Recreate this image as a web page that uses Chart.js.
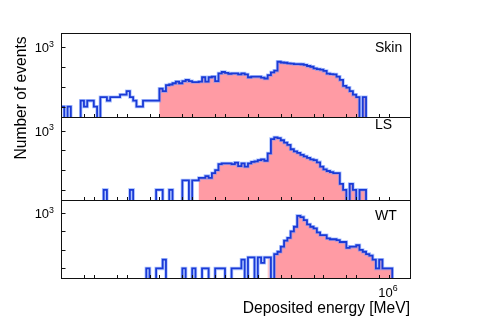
<!DOCTYPE html>
<html>
<head>
<meta charset="utf-8">
<script src="https://cdn.jsdelivr.net/npm/chart.js@4.4.1/dist/chart.umd.min.js"></script>
<style>
html,body{margin:0;padding:0;background:#ffffff;}
#wrap{position:relative;width:483px;height:327px;overflow:hidden;background:#ffffff;}
#wrap canvas{position:absolute;left:0;top:0;}
</style>
</head>
<body>
<div id="wrap">
<canvas id="p0" width="483" height="327"></canvas>
<canvas id="p1" width="483" height="327"></canvas>
<canvas id="p2" width="483" height="327"></canvas>
</div>
<script>
// ---------------- data ----------------
const BIN_LOG_START = -4;   // log10 of lower edge of first bin [MeV]
const BIN_LOG_STEP = 0.1;   // bin width in decades

const PANEL_NAMES = ['Skin', 'LS', 'WT'];

const SKIN_COUNTS = [
  1,0,1,0,0,0,2,1,2,2, 1,0,3,3,2,3,3,3,4,4, 6,3,2,1,1,2,2,2,2,2,
  8,6,12,13,15,18,15,19,22,19, 17,17,18,30,18,30,32,19,47,55,
  50,45,47,47,42,47,42,30,32,32, 32,29,26,38,53,64,180,165,160,150,
  145,138,138,135,125,110,101,84,76,72, 62,46,43,42,32,22,11,9,6,4,
  3,0,3,0,0,0,0,0,0,0, 0,0,0,0,0,0
];
const LS_COUNTS = [
  0,0,0,0,0,0,0,0,0,0, 0,0,0,1,0,0,0,0,0,0, 0,1,0,0,0,0,0,0,0,1,
  1,0,0,1,0,0,0,3,3,0, 3,3,4,4,5,4,7,10,20,22,
  22,22,20,24,16,22,15,22,26,28, 32,35,30,71,380,460,420,330,250,190,
  115,90,75,60,50,42,35,32,25,15, 11,9,8,7,7,2,1,0,2,1,
  0,1,1,0,0,0,0,0,0,0, 0,0,0,0,0,0
];
const WT_COUNTS = [
  0,0,0,0,0,0,0,0,0,0, 0,0,0,0,0,0,0,0,0,0, 0,0,0,0,0,0,1,0,0,1,
  1,3,0,0,0,0,0,1,0,0, 1,0,0,1,1,0,0,1,1,1,
  0,0,1,1,1,3,0,4,4,0, 4,2,4,4,0,6,8,15,32,45,
  100,180,700,600,410,240,180,146,89,63, 63,42,38,38,34,27,27,13,15,15,
  18,10,8,6,5,3,1,3,1,1, 1,0,0,0,0,0
];
const PANEL_COUNTS = [SKIN_COUNTS, LS_COUNTS, WT_COUNTS];
// first bin of the shaded (selected) part of each histogram
const FILL_FROM_BIN = [30, 42, 65];
// isolated bins shaded in a paler tone
const PALE_BINS = [[], [], [63]];

const X_TICKS = [5e-4,1e-3,5e-3,1e-2,5e-2,1e-1,5e-1,1,5,10,50,100,500,1e3,5e3,1e4,5e4,1e5,5e5,1e6];
const Y_TICKS = [1, 10, 100, 1000];
const X_LABEL = {base: '10', exp: '6', value: 1e6};
const Y_LABEL = {base: '10', exp: '3', value: 1000};
const X_TITLE = 'Deposited energy [MeV]';
const Y_TITLE = 'Number of events';

const X_MIN = 1e-4, X_MAX = 4.68e6;
const Y_MIN = 0.27, Y_MAX = 5000;
const EMPTY_LEVEL = Y_MIN / 100;   // where empty bins are drawn (below the frame, clipped)

// ---------------- layout / style ----------------
const FRAME_LEFT = 61, FRAME_RIGHT = 411;
const PANEL_FRAMES = [{top: 33, bottom: 118}, {top: 117, bottom: 201}, {top: 200, bottom: 279}];
const NAME_BASELINES = [51.7, 129.3, 220];
const FONT = '"Liberation Sans", Arial, Helvetica, sans-serif';
const LINE_COLOR = '#1a3ad6';
const HALO_COLOR = 'rgba(110,150,255,0.55)';
const FILL_COLOR = '#ff9ba4';
const PALE_COLOR = '#ffc9ce';

function histPoints(counts, keep) {
  const pts = [];
  for (let k = 0; k < counts.length; k++) {
    const c = keep(k) ? counts[k] : 0;
    pts.push({x: Math.pow(10, BIN_LOG_START + k * BIN_LOG_STEP), y: c > 0 ? c : EMPTY_LEVEL});
  }
  pts.push({x: Math.pow(10, BIN_LOG_START + counts.length * BIN_LOG_STEP), y: EMPTY_LEVEL});
  return pts;
}

function drawPower(ctx, base, exp, x, yBase, size, align) {
  ctx.font = size + 'px ' + FONT;
  const wb = ctx.measureText(base).width;
  const es = size * 0.68;
  ctx.font = es + 'px ' + FONT;
  const we = ctx.measureText(exp).width;
  const total = wb + we;
  let x0 = x;
  if (align === 'right') x0 = x - total;
  else if (align === 'center') x0 = x - total / 2;
  ctx.textAlign = 'left';
  ctx.textBaseline = 'alphabetic';
  ctx.font = size + 'px ' + FONT;
  ctx.fillText(base, x0, yBase);
  ctx.font = es + 'px ' + FONT;
  ctx.fillText(exp, x0 + wb, yBase - size * 0.45);
}

const decor = {
  id: 'decor',
  afterDatasetsDraw(chart, args, opts) {
    const ctx = chart.ctx, a = chart.chartArea;
    const xs = chart.scales.x, ys = chart.scales.y;
    ctx.save();
    ctx.fillStyle = '#000';
    ctx.strokeStyle = '#111';
    ctx.lineWidth = 1;
    // ticks (inside the frame)
    ctx.beginPath();
    for (const v of X_TICKS) {
      const px = Math.round(xs.getPixelForValue(v)) + 0.5;
      if (px <= a.left + 1 || px >= a.right - 1) continue;
      ctx.moveTo(px, a.bottom - 0.5);
      ctx.lineTo(px, a.bottom - 4);
    }
    for (const v of Y_TICKS) {
      const py = Math.round(ys.getPixelForValue(v)) + 0.5;
      ctx.moveTo(a.left, py);
      ctx.lineTo(a.left + 4.5, py);
    }
    ctx.stroke();
    // frame
    ctx.strokeRect(a.left + 0.5, a.top + 0.5, a.right - a.left - 1, a.bottom - a.top - 1);
    // y label at 10^3
    const py = ys.getPixelForValue(Y_LABEL.value);
    drawPower(ctx, Y_LABEL.base, Y_LABEL.exp, 54, py + 5.5, 13, 'right');
    // panel name
    ctx.font = '14px ' + FONT;
    ctx.textAlign = 'left';
    ctx.textBaseline = 'alphabetic';
    ctx.fillText(opts.name, 375, opts.nameBaseline);
    if (opts.last) {
      const px = xs.getPixelForValue(X_LABEL.value);
      drawPower(ctx, X_LABEL.base, X_LABEL.exp, px - 1, 297, 13, 'center');
      ctx.font = '15.6px ' + FONT;
      ctx.textAlign = 'right';
      ctx.fillText(X_TITLE, 410, 312.5);
      ctx.save();
      ctx.translate(26, 98);
      ctx.rotate(-Math.PI / 2);
      ctx.textAlign = 'center';
      ctx.fillText(Y_TITLE, 0, 0);
      ctx.restore();
    }
    ctx.restore();
  }
};

PANEL_NAMES.forEach((name, i) => {
  const f = PANEL_FRAMES[i];
  const counts = PANEL_COUNTS[i];
  const outline = histPoints(counts, () => true);
  new Chart(document.getElementById('p' + i), {
    type: 'line',
    data: {
      datasets: [
        {
          data: outline,
          stepped: true, borderColor: LINE_COLOR, borderWidth: 1.8,
          pointRadius: 0, fill: false, clip: 0, borderJoinStyle: 'miter'
        },
        {
          data: outline,
          stepped: true, borderColor: HALO_COLOR, borderWidth: 3.4,
          pointRadius: 0, fill: false, clip: 0, borderJoinStyle: 'miter'
        },
        {
          data: histPoints(counts, k => k >= FILL_FROM_BIN[i]),
          stepped: true, borderWidth: 0, borderColor: 'rgba(0,0,0,0)',
          backgroundColor: FILL_COLOR, pointRadius: 0, fill: 'start', clip: 0
        },
        {
          data: histPoints(counts, k => PALE_BINS[i].includes(k)),
          stepped: true, borderWidth: 0, borderColor: 'rgba(0,0,0,0)',
          backgroundColor: PALE_COLOR, pointRadius: 0, fill: 'start', clip: 0
        }
      ]
    },
    options: {
      responsive: false, animation: false, devicePixelRatio: 1,
      layout: {padding: {left: FRAME_LEFT, right: 483 - FRAME_RIGHT, top: f.top, bottom: 327 - f.bottom}},
      scales: {
        x: {type: 'logarithmic', min: X_MIN, max: X_MAX, display: false},
        y: {type: 'logarithmic', min: Y_MIN, max: Y_MAX, display: false}
      },
      plugins: {
        legend: {display: false}, tooltip: {enabled: false},
        decor: {name: name, nameBaseline: NAME_BASELINES[i], last: i === 2}
      }
    },
    plugins: [decor]
  });
});
</script>
</body>
</html>
